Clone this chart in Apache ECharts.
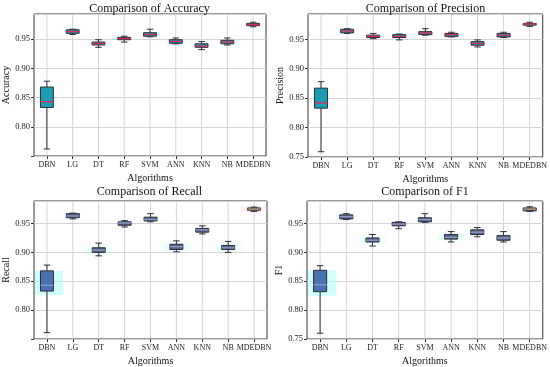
<!DOCTYPE html>
<html><head><meta charset="utf-8">
<script src="https://cdn.jsdelivr.net/npm/echarts@6/dist/echarts.min.js"></script>
<style>html,body{margin:0;padding:0;background:#fff}#c{width:550px;height:367px}</style>
</head><body><div id="c"></div>
<script>
// ---- data: [min, Q1, median, Q3, max] per algorithm ----
const categories = ['DBN','LG','DT','RF','SVM','ANN','KNN','NB','MDEDBN'];
const accuracy = [
  [0.762,0.833,0.843,0.868,0.878],
  [0.958,0.960,0.963,0.966,0.967],
  [0.936,0.940,0.9425,0.945,0.949],
  [0.945,0.949,0.951,0.953,0.955],
  [0.954,0.955,0.958,0.961,0.967],
  [0.942,0.943,0.946,0.949,0.952],
  [0.932,0.936,0.938,0.942,0.946],
  [0.940,0.942,0.945,0.948,0.952],
  [0.971,0.973,0.975,0.977,0.979]
];
const precision = [
  [0.759,0.833,0.842,0.867,0.878],
  [0.960,0.961,0.964,0.967,0.968],
  [0.951,0.953,0.955,0.957,0.960],
  [0.949,0.953,0.955,0.958,0.959],
  [0.957,0.958,0.961,0.963,0.968],
  [0.954,0.955,0.958,0.960,0.962],
  [0.937,0.940,0.943,0.946,0.949],
  [0.953,0.954,0.957,0.960,0.962],
  [0.972,0.974,0.976,0.977,0.979]
];
const recall = [
  [0.761,0.833,0.843,0.868,0.878],
  [0.958,0.960,0.963,0.967,0.968],
  [0.894,0.900,0.904,0.908,0.916],
  [0.944,0.947,0.951,0.953,0.955],
  [0.953,0.9545,0.957,0.961,0.967],
  [0.901,0.905,0.910,0.914,0.920],
  [0.932,0.935,0.939,0.9415,0.946],
  [0.900,0.905,0.908,0.912,0.919],
  [0.971,0.973,0.975,0.977,0.9785]
];
const f1 = [
  [0.760,0.832,0.844,0.869,0.877],
  [0.957,0.958,0.962,0.965,0.967],
  [0.911,0.918,0.921,0.925,0.931],
  [0.941,0.946,0.949,0.952,0.953],
  [0.952,0.953,0.957,0.960,0.967],
  [0.918,0.923,0.926,0.931,0.936],
  [0.927,0.931,0.935,0.939,0.943],
  [0.918,0.921,0.925,0.929,0.936],
  [0.971,0.972,0.975,0.977,0.979]
];
const titles = ['Comparison of Accuracy','Comparison of Precision','Comparison of Recall','Comparison of F1'];
const yNames = ['Accuracy','Precision','Recall','F1'];
const xName = 'Algorithms';

const FONT = '"Liberation Serif", "DejaVu Serif", serif';
const panels = [
  {data: accuracy,  grid:{left:33,top:14,width:233,height:142}, titleTop:2.5, max:0.993, show075:false,
   fill:()=> '#1b9db3', med:'#e8245e', glow:{}},
  {data: precision, grid:{left:308,top:14,width:235,height:143}, titleTop:2.5, max:0.993, show075:true,
   fill:()=> '#1b9db3', med:'#e8245e', glow:{}},
  {data: recall,    grid:{left:32,top:201,width:235,height:140}, titleTop:186, max:0.989, show075:false,
   fill:(i)=> i===0 ? '#4a72b2' : '#56648e', med:'#8d9cc4',
   glow:{DBN:'rgba(170,255,250,0.55)', DT:'rgba(190,255,250,0.3)', ANN:'rgba(190,255,250,0.3)', NB:'rgba(190,255,250,0.3)', MDEDBN:'rgba(255,200,215,0.3)'}},
  {data: f1,        grid:{left:307,top:201,width:236,height:140}, titleTop:186, max:0.989, show075:true,
   fill:(i)=> i===0 ? '#4a72b2' : '#56648e', med:'#8d9cc4',
   glow:{DBN:'rgba(170,255,250,0.55)', DT:'rgba(190,255,250,0.3)', ANN:'rgba(190,255,250,0.3)'}}
];

const option = {animation:false, title:[], grid:[], xAxis:[], yAxis:[], series:[]};
panels.forEach((p, k) => {
  const g = p.grid;
  option.grid.push(Object.assign({show:true, borderColor:'#333', borderWidth:1, backgroundColor:'transparent', containLabel:false}, g));
  option.title.push({text:titles[k], left:g.left + g.width/2, top:p.titleTop, textAlign:'center', padding:0,
    textStyle:{fontFamily:FONT, fontSize:12, fontWeight:'normal', color:'#111'}});
  option.xAxis.push({type:'category', gridIndex:k, data:categories, boundaryGap:true,
    name:xName, nameLocation:'middle', nameGap:17,
    nameTextStyle:{fontFamily:FONT, fontSize:10, color:'#111'},
    axisLine:{show:false},
    axisTick:{show:true, alignWithLabel:true, length:3, lineStyle:{color:'#333'}},
    axisLabel:{fontFamily:FONT, fontSize:8, color:'#222', margin:5, interval:0},
    splitLine:{show:false}});
  option.yAxis.push({type:'value', gridIndex:k, min:0.75, max:p.max, interval:0.05,
    name:yNames[k], nameLocation:'middle', nameGap:23,
    nameTextStyle:{fontFamily:FONT, fontSize:10, color:'#111'},
    axisLine:{show:false},
    axisTick:{show:true, length:3, lineStyle:{color:'#333'}},
    axisLabel:{fontFamily:FONT, fontSize:8.5, color:'#222', margin:4, showMaxLabel:false,
      formatter:(v)=>{ const r = v/0.05; if (Math.abs(r-Math.round(r))>1e-6) return '';
        if (!p.show075 && Math.abs(v-0.75)<1e-6) return ''; return v.toFixed(2);} },
    splitLine:{show:true, lineStyle:{color:'#d4d4d4', width:1}}});
  const seriesData = p.data.map((d,i)=>[i].concat(d));
  option.series.push({
    type:'custom', xAxisIndex:k, yAxisIndex:k, data:seriesData, z:3,
    encode:{x:0, y:[1,2,3,4,5]},
    renderItem:(params, api)=>{
      const i = api.value(0);
      const vMin=api.value(1), q1=api.value(2), med=api.value(3), q3=api.value(4), vMax=api.value(5);
      const cs = params.coordSys;
      const band = api.size([1,0])[0];
      const bw = band*0.5, cw = bw*0.5;
      const pMin=api.coord([i,vMin]), pQ1=api.coord([i,q1]), pMed=api.coord([i,med]), pQ3=api.coord([i,q3]), pMax=api.coord([i,vMax]);
      const x = pMed[0];
      const ch = [];
      ch.push({type:'line', shape:{x1:x, y1:cs.y, x2:x, y2:cs.y+cs.height}, style:{stroke:'#d4d4d4', lineWidth:1}});
      const gc = p.glow[categories[i]];
      if (gc) {
        const gw = categories[i]==='DBN' ? band*0.62 : bw*1.05;
        const top = api.coord([i, q3 + (categories[i]==='DBN'?0:0.002)])[1];
        const bot = api.coord([i, q1 - (categories[i]==='DBN'?0.007:0.003)])[1];
        ch.push({type:'rect', shape:{x:Math.max(cs.x+1, x-gw), y:top, width:(x+gw)-Math.max(cs.x+1,x-gw), height:bot-top}, style:{fill:gc}});
      }
      const st = {stroke:'#2b2f36', lineWidth:1};
      ch.push({type:'line', shape:{x1:x, y1:pMax[1], x2:x, y2:pQ3[1]}, style:st});
      ch.push({type:'line', shape:{x1:x, y1:pQ1[1], x2:x, y2:pMin[1]}, style:st});
      ch.push({type:'line', shape:{x1:x-cw/2, y1:pMax[1], x2:x+cw/2, y2:pMax[1]}, style:st});
      ch.push({type:'line', shape:{x1:x-cw/2, y1:pMin[1], x2:x+cw/2, y2:pMin[1]}, style:st});
      ch.push({type:'rect', shape:{x:x-bw/2, y:pQ3[1], width:bw, height:pQ1[1]-pQ3[1]}, style:{fill:p.fill(i), stroke:'#2b2f36', lineWidth:1}});
      ch.push({type:'line', shape:{x1:x-bw/2, y1:pMed[1], x2:x+bw/2, y2:pMed[1]}, style:{stroke: (k>=2 && i===8) ? '#c89a6a' : p.med, lineWidth:1.3}});
      return {type:'group', children:ch};
    }
  });
});
const chart = echarts.init(document.getElementById('c'), null, {renderer:'canvas'});
chart.setOption(option);
</script></body></html>
